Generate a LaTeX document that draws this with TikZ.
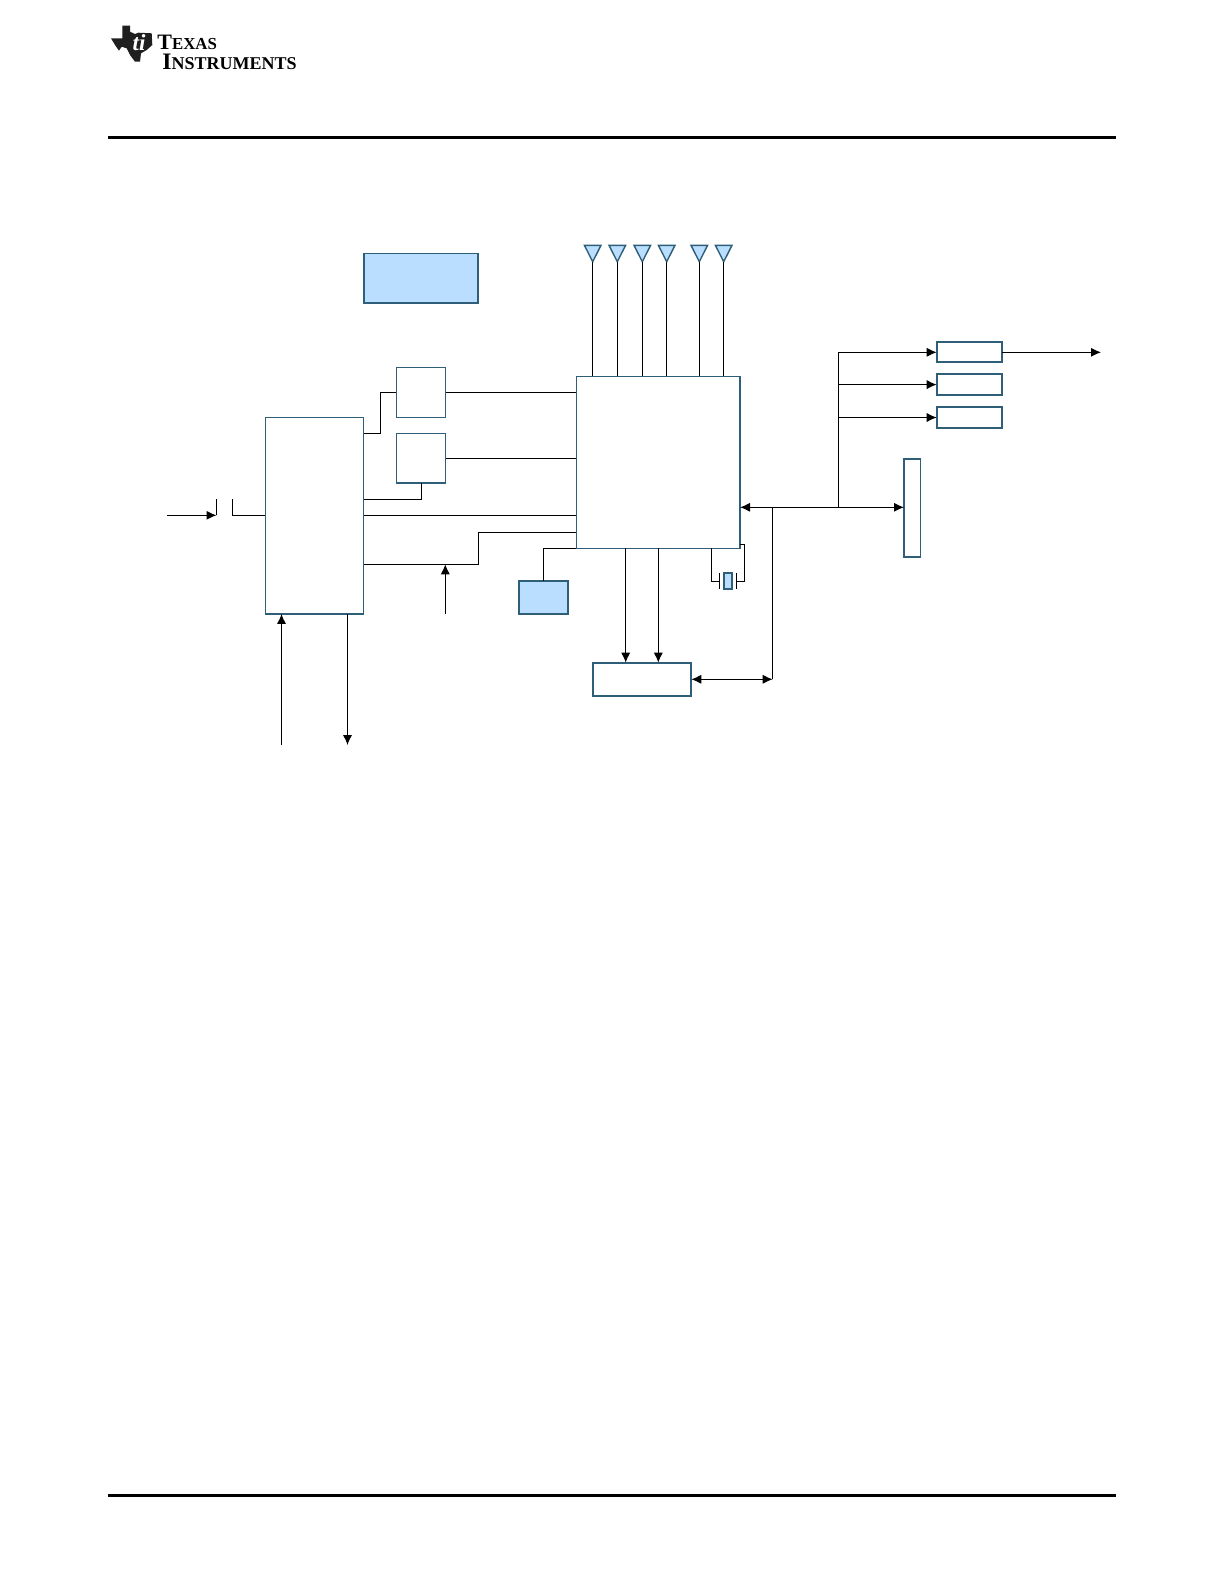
\documentclass[tikz,border=0pt]{standalone}
\usepackage{xcolor}
\usepackage{fontspec}
\setmainfont{Liberation Serif}
\usetikzlibrary{arrows.meta,shapes.geometric}
\definecolor{tiline}{HTML}{2E5E78}
\definecolor{tifill}{HTML}{B9DEFF}
\tikzset{
    size/.style 2 args={minimum width=#1*0.5bp, minimum height=#2*0.5bp},
    block/.style={draw=tiline, line width=0.9bp, inner sep=0pt, outer sep=0pt},
    thinblock/.style={block, line width=0.6bp},
    tinted/.style={block, fill=tifill},
    wire/.style={line width=0.55bp, >={Latex[length=5bp,width=4.6bp]}},
    antenna/.style={draw=tiline, fill=tifill, line width=0.7bp, isosceles triangle, isosceles triangle stretches, shape border rotate=-90, inner sep=0pt, outer sep=0pt, size={16.6}{16.4}, anchor=apex},
    rule/.style={line width=1.5bp},
    logotext/.style={anchor=base west, inner sep=0pt, font=\bfseries}
}
\begin{document}
\begin{tikzpicture}[x=0.5bp, y=-0.5bp]
    \useasboundingbox (0,0) rectangle (1224,1584);

    % page furniture
    \coordinate (topl) at (108,137);
    \coordinate (topr) at (1116,137);
    \coordinate (botl) at (108,1495);
    \coordinate (botr) at (1116,1495);
    \draw[rule] (topl) -- (topr);
    \draw[rule] (botl) -- (botr);

    % logo
    \fill[black!88] (111,38.3) -- (122.3,38.3) -- (122.3,25.7) -- (130,25.7) -- (130,31.7) -- (135,34) -- (138.3,32.7) -- (151.7,33.3) -- (152.3,45) -- (146.7,50) -- (141,53.3) -- (140,61.7) -- (135,61.7) -- (130,55) -- (126.7,48.3) -- (121.7,46.7) -- (119,50.7) -- (115,45) -- cycle;
    \node[white, inner sep=0pt, font=\itshape\bfseries\fontsize{11.5bp}{11.5bp}\selectfont] (logoti) at (139,43) {ti};
    \node[logotext] (logotexas) at (157,49) {\fontsize{11bp}{11bp}\selectfont T\fontsize{8.4bp}{8.4bp}\selectfont EXAS};
    \node[logotext] (logoinst) at (162,69) {\fontsize{11.8bp}{11.8bp}\selectfont I\fontsize{9bp}{9bp}\selectfont NSTRUMENTS};

    % blocks
    \node[tinted, size={114}{49.5}] (memory) at (420.8,278.2) {};
    \node[thinblock, size={98.4}{196.7}] (power) at (314.5,515.6) {};
    \node[thinblock, size={49.4}{49.6}] (regup) at (421,392.5) {};
    \node[thinblock, size={49.4}{49.3}] (reglow) at (421,458.3) {};
    \node[thinblock, size={163.7}{172}] (main) at (658.2,462.4) {};
    \node[tinted, size={49.6}{33.6}] (sensor) at (543.5,597.5) {};
    \node[block, size={98.6}{33.3}] (codec) at (642,679.3) {};
    \node[block, size={65.6}{20}] (outa) at (969.5,352.3) {};
    \node[block, size={65.6}{20.7}] (outb) at (969.5,384.6) {};
    \node[block, size={65.6}{21.6}] (outc) at (969.5,417.5) {};
    \node[block, size={16.4}{98.2}] (header) at (912.2,507.8) {};
    \node[tinted, size={8.6}{15.7}] (crystal) at (728,581.2) {};

    % antennas
    \foreach \i/\x in {1/592.7,2/617.3,3/642.3,4/666.7,5/699.3,6/723.7}{
        \node[antenna] (ant\i) at (\x,261.7) {};
        \draw[wire] (ant\i.apex) -- (ant\i.apex |- main.north);
    }

    % left side
    \coordinate (inl) at (167,515.3);
    \coordinate (swa) at (216.5,515.3);
    \coordinate (swatop) at (216.5,499.3);
    \coordinate (swb) at (232.3,515.3);
    \coordinate (swbtop) at (232.3,499.3);
    \draw[wire,->] (inl) -- (swa);
    \draw[wire] (swa) -- (swatop);
    \draw[wire] (swbtop) -- (swb) -- (swb -| power.west);

    \coordinate (upa) at (380.3,433.3);
    \coordinate (lowa) at (421.7,499.3);
    \coordinate (mida) at (478.3,564.3);
    \coordinate (midb) at (478.3,532.3);
    \coordinate (senseup) at (445.3,564.3);
    \coordinate (sensebot) at (445.3,614);
    \draw[wire] (upa -| power.east) -- (upa) -- (upa |- regup.west) -- (regup.west);
    \draw[wire] (regup.east) -- (regup.east -| main.west);
    \draw[wire] (reglow.east) -- (reglow.east -| main.west);
    \draw[wire] (lowa -| power.east) -- (lowa) -- (lowa |- reglow.south);
    \draw[wire] (power.east |- swb) -- (main.west |- swb);
    \draw[wire] (mida -| power.east) -- (mida) -- (midb) -- (midb -| main.west);
    \draw[wire,->] (sensebot) -- (senseup);

    \coordinate (vin) at (281.5,745);
    \coordinate (vout) at (347.5,745);
    \draw[wire,->] (vin) -- (vin |- power.south);
    \draw[wire,->] (vout |- power.south) -- (vout);

    % below main
    \draw[wire] (sensor.north) -- (sensor.north |- main.south) -- (main.south west);
    \coordinate (tapa) at (625.7,548.3);
    \coordinate (tapb) at (658.3,548.3);
    \draw[wire,->] (tapa) -- (tapa |- codec.north);
    \draw[wire,->] (tapb) -- (tapb |- codec.north);

    % crystal
    \coordinate (xa) at (711.3,548.3);
    \coordinate (xb) at (719.3,581.3);
    \coordinate (xc) at (736.3,581.3);
    \coordinate (xd) at (744.3,581.3);
    \coordinate (xe) at (744.3,544.3);
    \draw[wire] (xa) -- (xa |- xb) -- (xb);
    \draw[wire] (719.3,572.7) -- (719.3,589.3);
    \draw[wire] (736.3,572.7) -- (736.3,589.3);
    \draw[wire] (xc) -- (xd) -- (xe) -- (xe -| main.east);

    % bus
    \coordinate (busa) at (772.7,507.3);
    \coordinate (busb) at (838.3,507.3);
    \coordinate (busc) at (772.7,679.3);
    \coordinate (bust) at (838.3,352.3);
    \coordinate (outend) at (1101,352.3);
    \draw[wire,<->] (main.east |- busa) -- (header.west |- busa);
    \draw[wire,<->] (codec.east) -- (busc);
    \draw[wire] (busc) -- (busa);
    \draw[wire] (busb) -- (bust);
    \draw[wire,->] (bust) -- (outa.west);
    \draw[wire,->] (bust |- outb.west) -- (outb.west);
    \draw[wire,->] (bust |- outc.west) -- (outc.west);
    \draw[wire,->] (outa.east) -- (outend);
\end{tikzpicture}
\end{document}
